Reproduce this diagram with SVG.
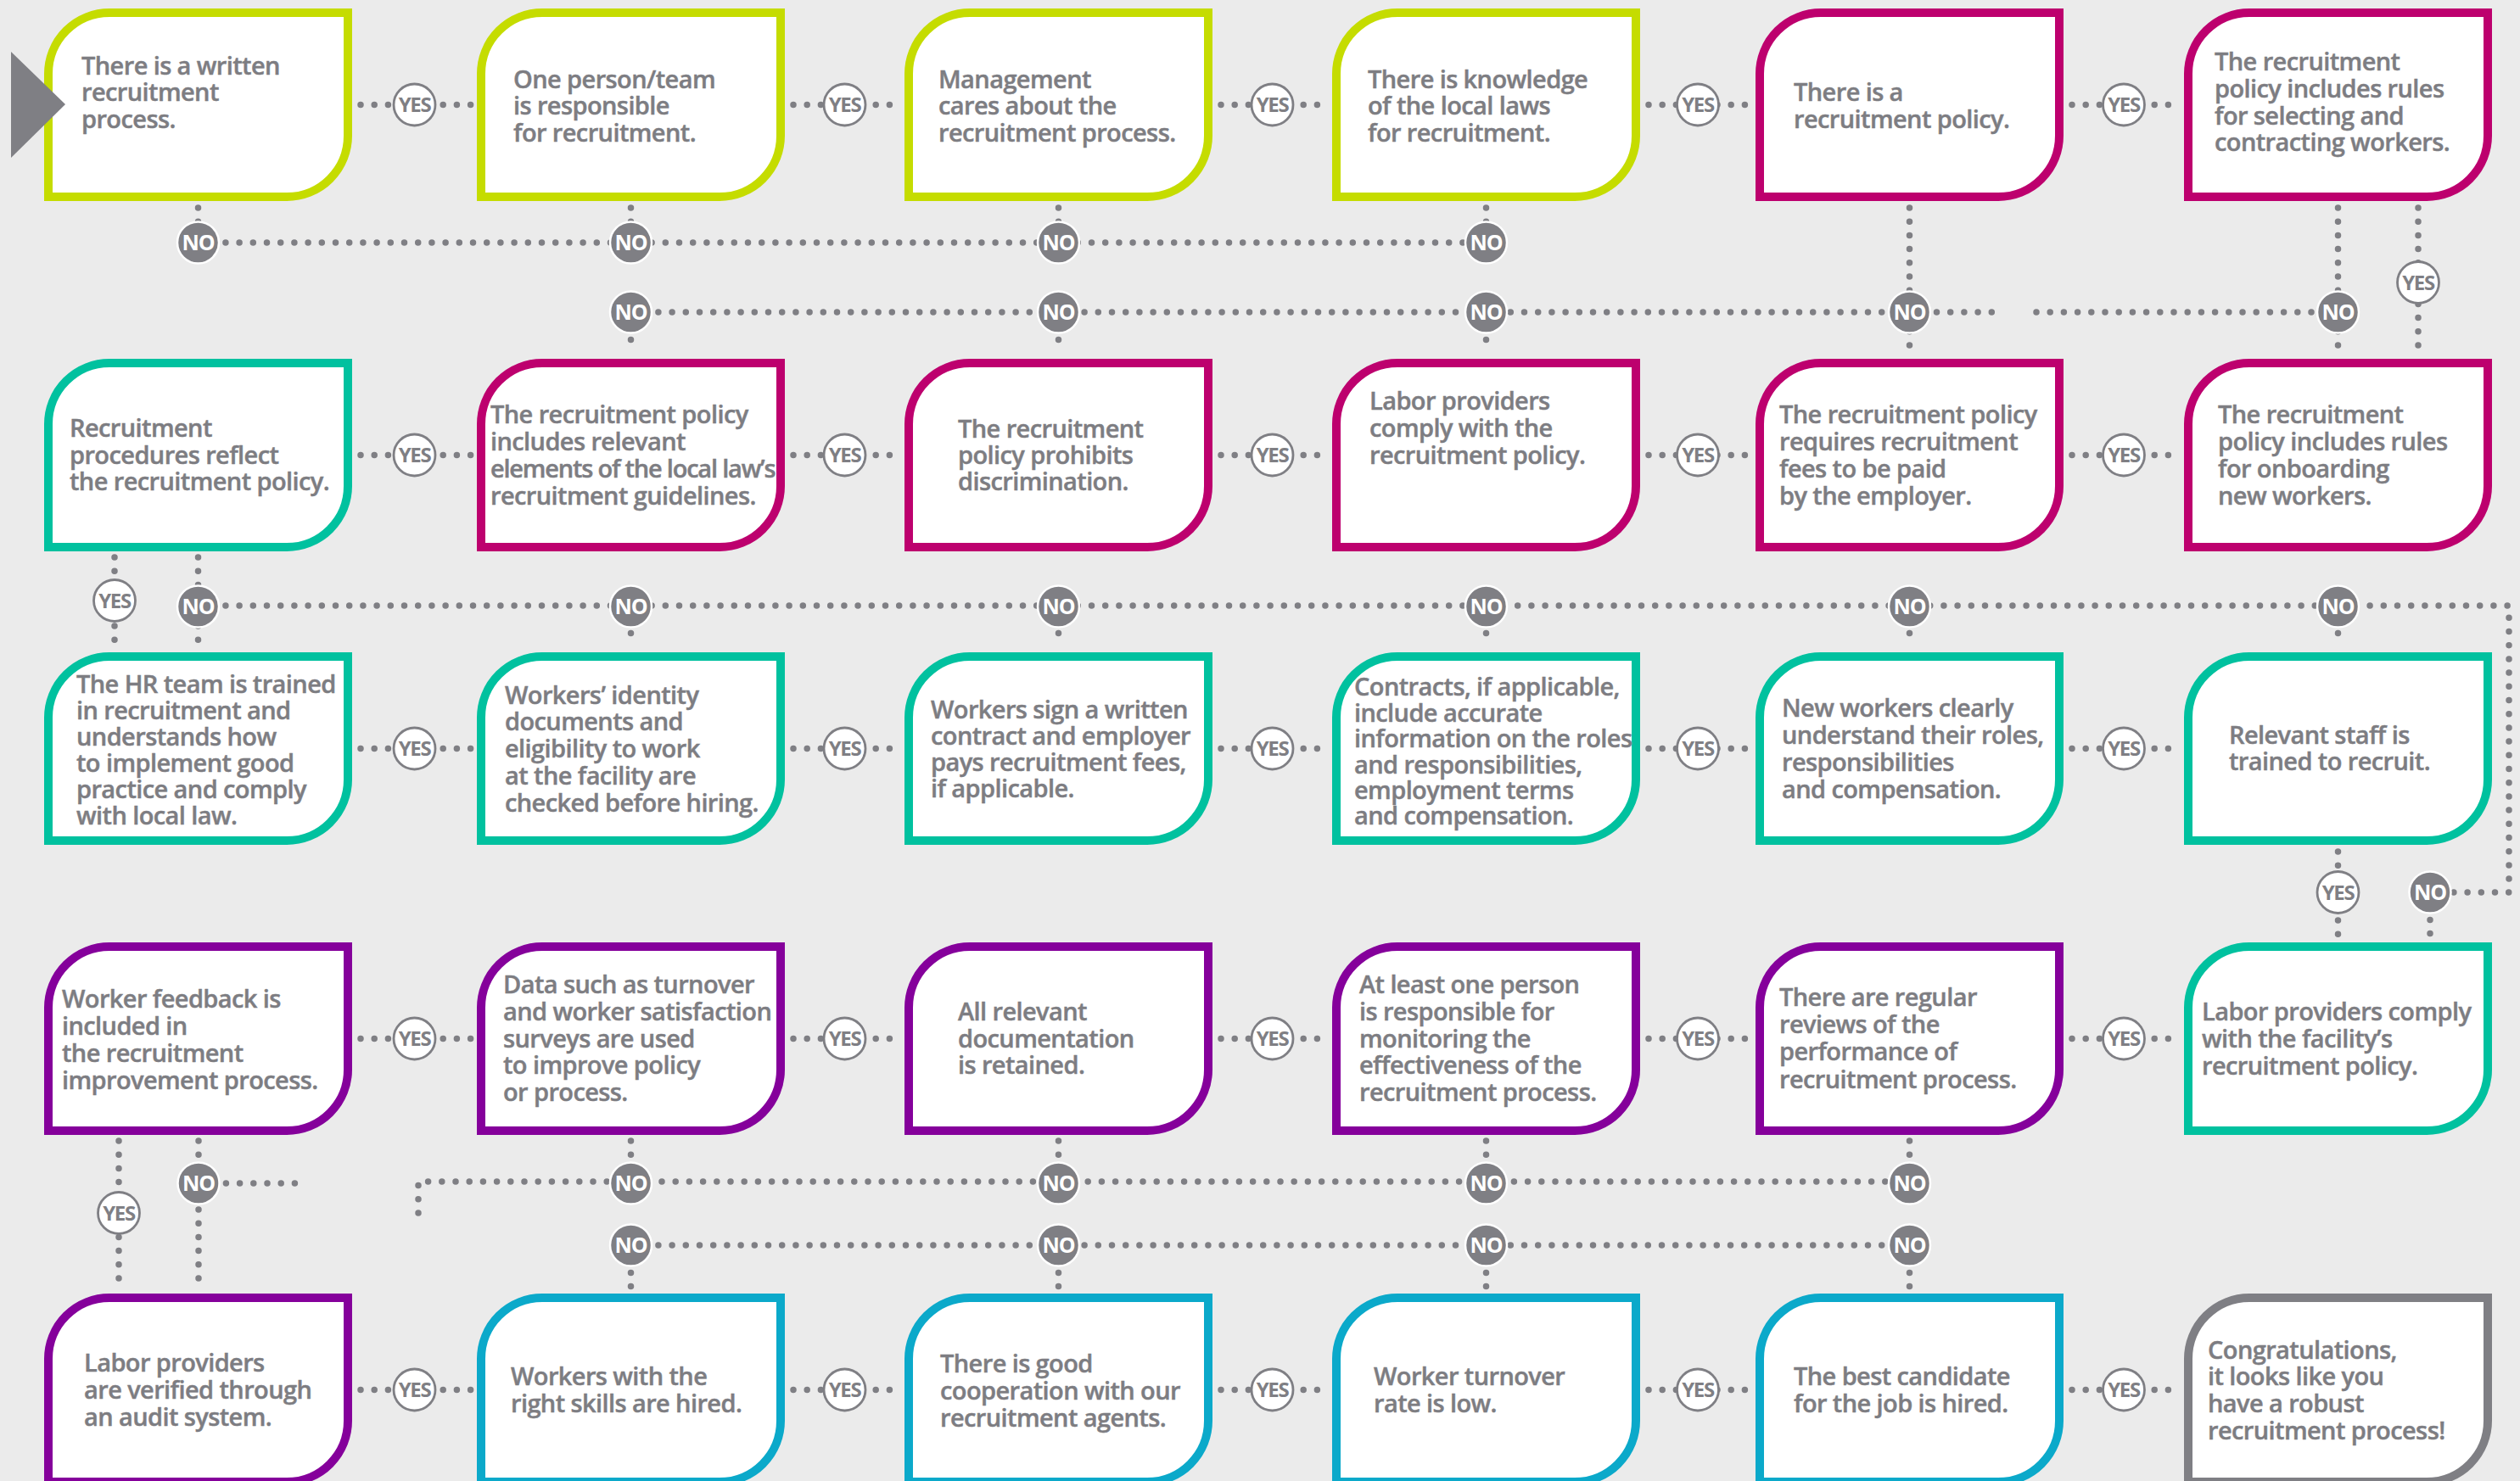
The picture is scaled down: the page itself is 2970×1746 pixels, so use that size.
<svg xmlns="http://www.w3.org/2000/svg" xmlns:xlink="http://www.w3.org/1999/xlink" width="2970" height="1746" viewBox="0 0 2970 1746">
<style>
.bg{fill:#ebebeb}
.box{fill:#fff;stroke-width:10}
.lime{stroke:#c5dc00}.mag{stroke:#bd006e}.teal{stroke:#00c19f}.pur{stroke:#85009b}.cyan{stroke:#0ba9ca}.gry{stroke:#7f7f84}
.t{font-family:"Open Sans","Liberation Sans",sans-serif;font-weight:600;font-size:29px;fill:#7d7d82;stroke:#7d7d82;stroke-width:0.45px;letter-spacing:-0.6px}
.d{fill:none;stroke:#7f7f84;stroke-width:7.5;stroke-linecap:round;stroke-dasharray:0 16.2}
.yes circle{fill:#fff;stroke:#7f7f84;stroke-width:2.8}
.yes text{fill:#7f7f84;font-family:"Open Sans","Liberation Sans",sans-serif;font-weight:700;font-size:24px;letter-spacing:-1.4px;text-anchor:middle}
.no circle{fill:#7f7f84;stroke:#fff;stroke-width:2.5}
.no text{fill:#fff;font-family:"Open Sans","Liberation Sans",sans-serif;font-weight:700;font-size:25px;letter-spacing:-1.2px;text-anchor:middle}
</style>
<defs>
<path id="bx" d="M5,77 A72,72 0 0 1 77,5 H358 V150 A72,72 0 0 1 286,222 H5 Z"/>
<g id="Y" class="yes"><circle r="24.5"/><text y="8.5">YES</text></g>
<g id="N" class="no"><circle r="24.5"/><text y="9">NO</text></g>
</defs>
<rect class="bg" width="2970" height="1746"/>

<g id="connectors">
<path class="d" d="M425,123.5H555M935,123.5H1059M1439,123.5H1563M1943,123.5H2062M2442,123.5H2567"/>
<path class="d" d="M425,536.5H555M935,536.5H1059M1439,536.5H1563M1943,536.5H2062M2442,536.5H2567"/>
<path class="d" d="M425,882.5H555M935,882.5H1059M1439,882.5H1563M1943,882.5H2062M2442,882.5H2567"/>
<path class="d" d="M425,1224.5H555M935,1224.5H1059M1439,1224.5H1563M1943,1224.5H2062M2442,1224.5H2567"/>
<path class="d" d="M425,1638.5H555M935,1638.5H1059M1439,1638.5H1563M1943,1638.5H2062M2442,1638.5H2567"/>
<path class="d" d="M233.5,245V286M743.5,245V286M1247.5,245V286M1751.5,245V286"/>
<path class="d" d="M233.5,286H1751.5"/>
<path class="d" d="M743.5,368H2359M2400,368H2755.5"/>
<path class="d" d="M743.5,368V416M1247.5,368V416M1751.5,368V416"/>
<path class="d" d="M2250.5,245V416M2755.5,245V416M2850,245V416"/>
<path class="d" d="M233.5,657V762M135,657V762"/>
<path class="d" d="M233.5,714H2957V1052H2864"/>
<path class="d" d="M743.5,714V762M1247.5,714V762M1751.5,714V762M2250.5,714V762M2755.5,714V762"/>
<path class="d" d="M2755.5,1004V1104M2864,1052V1104"/>
<path class="d" d="M140,1345V1518M234,1345V1518M234,1395H361"/>
<path class="d" d="M493,1430V1393H2250.5"/>
<path class="d" d="M743.5,1345V1393M1247.5,1345V1393M1751.5,1345V1393M2250.5,1345V1393"/>
<path class="d" d="M743.5,1468H2250.5"/>
<path class="d" d="M743.5,1468V1518M1247.5,1468V1518M1751.5,1468V1518M2250.5,1468V1518"/>
<g id="yes-badges">
<use href="#Y" x="488.5" y="123.5"/><use href="#Y" x="995.5" y="123.5"/><use href="#Y" x="1499.5" y="123.5"/><use href="#Y" x="2001" y="123.5"/><use href="#Y" x="2503" y="123.5"/>
<use href="#Y" x="488.5" y="536.5"/><use href="#Y" x="995.5" y="536.5"/><use href="#Y" x="1499.5" y="536.5"/><use href="#Y" x="2001" y="536.5"/><use href="#Y" x="2503" y="536.5"/>
<use href="#Y" x="488.5" y="882.5"/><use href="#Y" x="995.5" y="882.5"/><use href="#Y" x="1499.5" y="882.5"/><use href="#Y" x="2001" y="882.5"/><use href="#Y" x="2503" y="882.5"/>
<use href="#Y" x="488.5" y="1224.5"/><use href="#Y" x="995.5" y="1224.5"/><use href="#Y" x="1499.5" y="1224.5"/><use href="#Y" x="2001" y="1224.5"/><use href="#Y" x="2503" y="1224.5"/>
<use href="#Y" x="488.5" y="1638.5"/><use href="#Y" x="995.5" y="1638.5"/><use href="#Y" x="1499.5" y="1638.5"/><use href="#Y" x="2001" y="1638.5"/><use href="#Y" x="2503" y="1638.5"/>
<use href="#Y" x="2850" y="333"/><use href="#Y" x="135" y="708"/><use href="#Y" x="2755.5" y="1052"/><use href="#Y" x="140" y="1430"/>
</g>
<g id="no-badges">
<use href="#N" x="233.5" y="286"/><use href="#N" x="743.5" y="286"/><use href="#N" x="1247.5" y="286"/><use href="#N" x="1751.5" y="286"/>
<use href="#N" x="743.5" y="368"/><use href="#N" x="1247.5" y="368"/><use href="#N" x="1751.5" y="368"/><use href="#N" x="2250.5" y="368"/><use href="#N" x="2755.5" y="368"/>
<use href="#N" x="233.5" y="715"/><use href="#N" x="743.5" y="715"/><use href="#N" x="1247.5" y="715"/><use href="#N" x="1751.5" y="715"/><use href="#N" x="2250.5" y="715"/><use href="#N" x="2755.5" y="715"/>
<use href="#N" x="2864" y="1052"/>
<use href="#N" x="234" y="1395"/>
<use href="#N" x="743.5" y="1395"/><use href="#N" x="1247.5" y="1395"/><use href="#N" x="1751.5" y="1395"/><use href="#N" x="2250.5" y="1395"/>
<use href="#N" x="743.5" y="1468"/><use href="#N" x="1247.5" y="1468"/><use href="#N" x="1751.5" y="1468"/><use href="#N" x="2250.5" y="1468"/>
</g>
</g>

<g id="n1"><use href="#bx" class="box lime" x="52" y="10"/>
<text class="t"><tspan x="96" y="88">There is a written</tspan><tspan x="96" y="119">recruitment</tspan><tspan x="96" y="151">process.</tspan></text></g>
<g id="n2"><use href="#bx" class="box lime" x="562" y="10"/>
<text class="t"><tspan x="605" y="104">One person/team</tspan><tspan x="605" y="135">is responsible</tspan><tspan x="605" y="167">for recruitment.</tspan></text></g>
<g id="n3"><use href="#bx" class="box lime" x="1066" y="10"/>
<text class="t"><tspan x="1106" y="104">Management</tspan><tspan x="1106" y="135">cares about the</tspan><tspan x="1106" y="167">recruitment process.</tspan></text></g>
<g id="n4"><use href="#bx" class="box lime" x="1570" y="10"/>
<text class="t"><tspan x="1612" y="104">There is knowledge</tspan><tspan x="1612" y="135">of the local laws</tspan><tspan x="1612" y="167">for recruitment.</tspan></text></g>
<g id="n5"><use href="#bx" class="box mag" x="2069" y="10"/>
<text class="t"><tspan x="2114" y="119">There is a</tspan><tspan x="2114" y="151">recruitment policy.</tspan></text></g>
<g id="n6"><use href="#bx" class="box mag" x="2574" y="10"/>
<text class="t"><tspan x="2610" y="83">The recruitment</tspan><tspan x="2610" y="115">policy includes rules</tspan><tspan x="2610" y="147">for selecting and</tspan><tspan x="2610" y="178">contracting workers.</tspan></text></g>

<g id="n7"><use href="#bx" class="box teal" x="52" y="423"/>
<text class="t"><tspan x="82" y="515">Recruitment</tspan><tspan x="82" y="547">procedures reflect</tspan><tspan x="82" y="578">the recruitment policy.</tspan></text></g>
<g id="n8"><use href="#bx" class="box mag" x="562" y="423"/>
<text class="t"><tspan x="578" y="499">The recruitment policy</tspan><tspan x="578" y="531">includes relevant</tspan><tspan x="578" y="563" textLength="336" lengthAdjust="spacing">elements of the local law’s</tspan><tspan x="578" y="595">recruitment guidelines.</tspan></text></g>
<g id="n9"><use href="#bx" class="box mag" x="1066" y="423"/>
<text class="t"><tspan x="1129" y="516">The recruitment</tspan><tspan x="1129" y="547">policy prohibits</tspan><tspan x="1129" y="578">discrimination.</tspan></text></g>
<g id="n10"><use href="#bx" class="box mag" x="1570" y="423"/>
<text class="t"><tspan x="1614" y="483">Labor providers</tspan><tspan x="1614" y="515">comply with the</tspan><tspan x="1614" y="547">recruitment policy.</tspan></text></g>
<g id="n11"><use href="#bx" class="box mag" x="2069" y="423"/>
<text class="t"><tspan x="2097" y="499">The recruitment policy</tspan><tspan x="2097" y="531">requires recruitment</tspan><tspan x="2097" y="563">fees to be paid</tspan><tspan x="2097" y="595">by the employer.</tspan></text></g>
<g id="n12"><use href="#bx" class="box mag" x="2574" y="423"/>
<text class="t"><tspan x="2614" y="499">The recruitment</tspan><tspan x="2614" y="531">policy includes rules</tspan><tspan x="2614" y="563">for onboarding</tspan><tspan x="2614" y="595">new workers.</tspan></text></g>

<g id="n13"><use href="#bx" class="box teal" x="52" y="769"/>
<text class="t"><tspan x="90" y="817">The HR team is trained</tspan><tspan x="90" y="848">in recruitment and</tspan><tspan x="90" y="879">understands how</tspan><tspan x="90" y="910">to implement good</tspan><tspan x="90" y="941">practice and comply</tspan><tspan x="90" y="972">with local law.</tspan></text></g>
<g id="n14"><use href="#bx" class="box teal" x="562" y="769"/>
<text class="t"><tspan x="595" y="830">Workers’ identity</tspan><tspan x="595" y="861">documents and</tspan><tspan x="595" y="893">eligibility to work</tspan><tspan x="595" y="925">at the facility are</tspan><tspan x="595" y="957">checked before hiring.</tspan></text></g>
<g id="n15"><use href="#bx" class="box teal" x="1066" y="769"/>
<text class="t"><tspan x="1097" y="847">Workers sign a written</tspan><tspan x="1097" y="878">contract and employer</tspan><tspan x="1097" y="909">pays recruitment fees,</tspan><tspan x="1097" y="940">if applicable.</tspan></text></g>
<g id="n16"><use href="#bx" class="box teal" x="1570" y="769"/>
<text class="t"><tspan x="1596" y="820">Contracts, if applicable,</tspan><tspan x="1596" y="851">include accurate</tspan><tspan x="1596" y="881">information on the roles</tspan><tspan x="1596" y="912">and responsibilities,</tspan><tspan x="1596" y="942">employment terms</tspan><tspan x="1596" y="972">and compensation.</tspan></text></g>
<g id="n17"><use href="#bx" class="box teal" x="2069" y="769"/>
<text class="t"><tspan x="2100" y="845">New workers clearly</tspan><tspan x="2100" y="877">understand their roles,</tspan><tspan x="2100" y="909">responsibilities</tspan><tspan x="2100" y="941">and compensation.</tspan></text></g>
<g id="n18"><use href="#bx" class="box teal" x="2574" y="769"/>
<text class="t"><tspan x="2627" y="877">Relevant staff is</tspan><tspan x="2627" y="908">trained to recruit.</tspan></text></g>

<g id="n19"><use href="#bx" class="box pur" x="52" y="1111"/>
<text class="t"><tspan x="73" y="1188">Worker feedback is</tspan><tspan x="73" y="1220">included in</tspan><tspan x="73" y="1252">the recruitment</tspan><tspan x="73" y="1284">improvement process.</tspan></text></g>
<g id="n20"><use href="#bx" class="box pur" x="562" y="1111"/>
<text class="t"><tspan x="593" y="1171">Data such as turnover</tspan><tspan x="593" y="1203">and worker satisfaction</tspan><tspan x="593" y="1235">surveys are used</tspan><tspan x="593" y="1266">to improve policy</tspan><tspan x="593" y="1298">or process.</tspan></text></g>
<g id="n21"><use href="#bx" class="box pur" x="1066" y="1111"/>
<text class="t"><tspan x="1129" y="1203">All relevant</tspan><tspan x="1129" y="1235">documentation</tspan><tspan x="1129" y="1266">is retained.</tspan></text></g>
<g id="n22"><use href="#bx" class="box pur" x="1570" y="1111"/>
<text class="t"><tspan x="1602" y="1171">At least one person</tspan><tspan x="1602" y="1203">is responsible for</tspan><tspan x="1602" y="1235">monitoring the</tspan><tspan x="1602" y="1266">effectiveness of the</tspan><tspan x="1602" y="1298">recruitment process.</tspan></text></g>
<g id="n23"><use href="#bx" class="box pur" x="2069" y="1111"/>
<text class="t"><tspan x="2097" y="1186">There are regular</tspan><tspan x="2097" y="1218">reviews of the</tspan><tspan x="2097" y="1250">performance of</tspan><tspan x="2097" y="1283">recruitment process.</tspan></text></g>
<g id="n24"><use href="#bx" class="box teal" x="2574" y="1111"/>
<text class="t"><tspan x="2595" y="1203">Labor providers comply</tspan><tspan x="2595" y="1235">with the facility’s</tspan><tspan x="2595" y="1267">recruitment policy.</tspan></text></g>

<g id="n25"><use href="#bx" class="box pur" x="52" y="1525"/>
<text class="t"><tspan x="99" y="1617">Labor providers</tspan><tspan x="99" y="1649">are verified through</tspan><tspan x="99" y="1681">an audit system.</tspan></text></g>
<g id="n26"><use href="#bx" class="box cyan" x="562" y="1525"/>
<text class="t"><tspan x="602" y="1633">Workers with the</tspan><tspan x="602" y="1665">right skills are hired.</tspan></text></g>
<g id="n27"><use href="#bx" class="box cyan" x="1066" y="1525"/>
<text class="t"><tspan x="1108" y="1618">There is good</tspan><tspan x="1108" y="1650">cooperation with our</tspan><tspan x="1108" y="1682">recruitment agents.</tspan></text></g>
<g id="n28"><use href="#bx" class="box cyan" x="1570" y="1525"/>
<text class="t"><tspan x="1619" y="1633">Worker turnover</tspan><tspan x="1619" y="1665">rate is low.</tspan></text></g>
<g id="n29"><use href="#bx" class="box cyan" x="2069" y="1525"/>
<text class="t"><tspan x="2114" y="1633">The best candidate</tspan><tspan x="2114" y="1665">for the job is hired.</tspan></text></g>
<g id="n30"><use href="#bx" class="box gry" x="2574" y="1525"/>
<text class="t"><tspan x="2602" y="1602">Congratulations,</tspan><tspan x="2602" y="1633">it looks like you</tspan><tspan x="2602" y="1665">have a robust</tspan><tspan x="2602" y="1697">recruitment process!</tspan></text></g>

<g id="start"><polygon points="13,61 77,123 13,186" fill="#7f7f84"/></g>
</svg>
